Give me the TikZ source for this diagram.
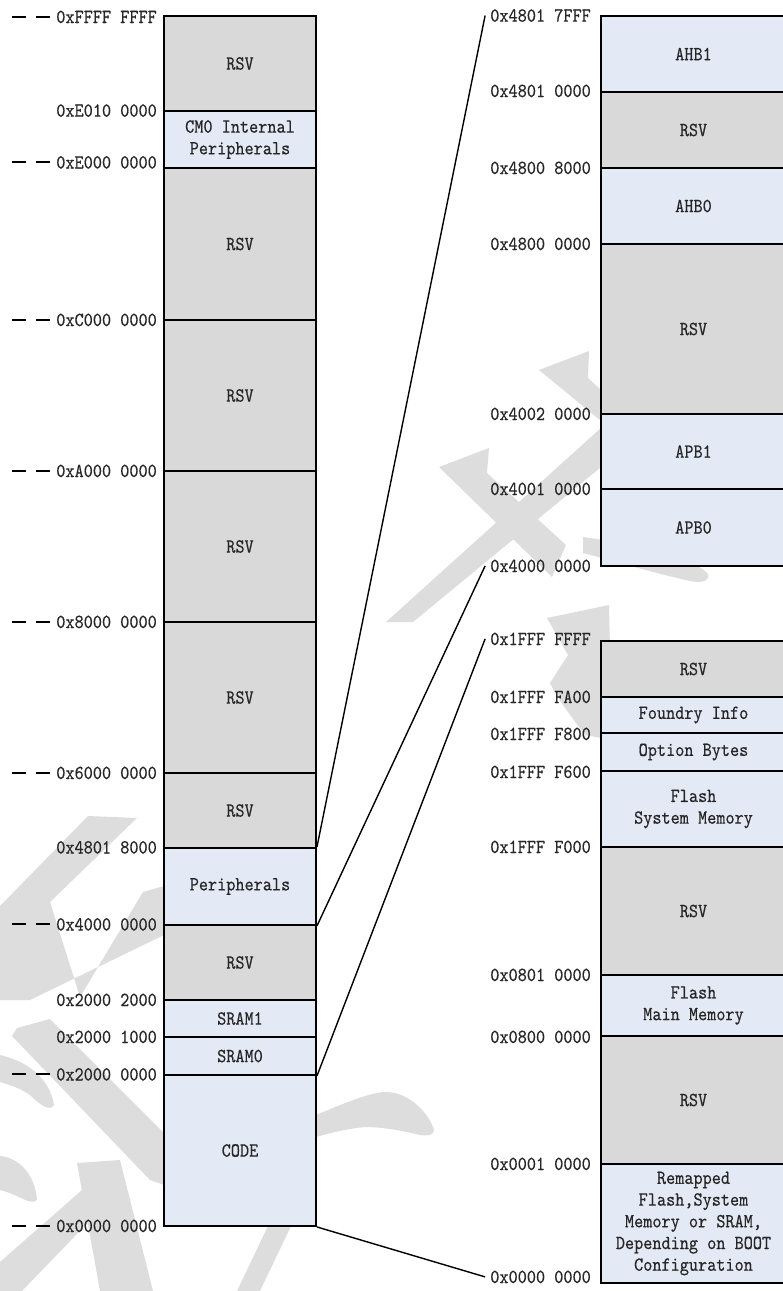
\documentclass[tikz,border=0pt]{standalone}
\usepackage{fontspec}
\newfontfamily\dfam[FakeStretch=0.87,FakeBold=0.35]{lmmono10-regular.otf}
\definecolor{rsvc}{RGB}{217,217,217}
\definecolor{bluc}{RGB}{228,234,245}
\definecolor{wmc}{RGB}{221,221,221}
\newcommand{\dfont}{\dfam\fontsize{20}{21.7}\selectfont}
\newcommand{\memblk}[7]{\node[#2, minimum width={#4-#3}, minimum height={#6-#5}] (#1) at ({(#3+#4)/2},{(#5+#6)/2}) {#7};}
\newcommand{\addr}[5]{\node[lab] (#1) at (#2,{#3+#4}) {#5};}
\begin{document}
\begin{tikzpicture}[x=1pt,y=-1pt,
  blk/.style={draw=black, line width=1.9pt, inner sep=0pt, align=center, font=\dfont, text=black!85},
  rsv/.style={blk, fill=rsvc},
  blu/.style={blk, fill=bluc},
  lab/.style={anchor=base east, inner sep=0pt, font=\dfont, text=black!85},
  dsh/.style={line width=1.9pt, dash pattern=on 14pt off 10pt},
  conn/.style={line width=1.4pt},
  wm/.style={fill=wmc}]
\useasboundingbox (0,0) rectangle (783,1291);
\fill[white] (0,0) rectangle (783,1291);
% watermark
\fill[wm] (88,816) -- (137,818) -- (50,902) -- (80,997) -- (143,892) -- (164,886) -- (164,935) -- (30,1000) -- (0,1000) -- (0,906) -- cycle;
\fill[wm] (17,1028) -- (50,1019) -- (164,1133) -- (164,1185) -- (150,1180) -- (12,1036) -- cycle;
\fill[wm] (316,1115) .. controls (340,1105) and (370,1092) .. (386,1092) .. controls (410,1092) and (430,1115) .. (434,1130) .. controls (434,1136) and (425,1136) .. (420,1135) .. controls (400,1130) and (380,1127) .. (366,1127) .. controls (350,1128) and (330,1133) .. (316,1137) -- cycle;
\fill[wm] (0,1055) .. controls (30,1062) and (50,1080) .. (54,1105) .. controls (50,1112) and (40,1105) .. (30,1095) .. controls (20,1088) and (10,1085) .. (0,1082) -- cycle;
\fill[wm] (0,1156) .. controls (20,1158) and (35,1175) .. (37,1200) .. controls (30,1206) and (20,1195) .. (0,1190) -- cycle;
\fill[wm] (77,1163) -- (120,1160) -- (153,1291) -- (100,1291) -- cycle;
\fill[wm] (82,1190) -- (100,1210) -- (22,1291) -- (0,1291) -- (0,1262) -- cycle;
\fill[wm] (268,1226) -- (291,1226) -- (260,1291) -- (237,1291) -- cycle;
\fill[wm] (612,418) -- (612,458) -- (413,622) -- (386,622) -- cycle;
\fill[wm] (539,370) -- (589,351) -- (588,378) -- (612,400) -- (612,430) -- cycle;
\fill[wm] (439,467) -- (489,448) -- (487,473) -- (566,545) -- (552,577) -- cycle;
\fill[wm] (583,537) .. controls (640,545) and (690,555) .. (708,574) .. controls (710,582) and (700,583) .. (690,581) .. controls (650,572) and (610,560) .. (583,553) -- cycle;
\fill[wm] (547,618) -- (609,605) -- (612,740) -- (585,735) .. controls (570,715) and (555,695) .. (550,683) -- (568,655) -- cycle;
% left column
\memblk{l1}{rsv}{164}{316}{16}{111}{RSV}
\memblk{l2}{blu}{164}{316}{111}{168}{CM0 Internal\\Peripherals}
\memblk{l3}{rsv}{164}{316}{168}{320}{RSV}
\memblk{l4}{rsv}{164}{316}{320}{471}{RSV}
\memblk{l5}{rsv}{164}{316}{471}{622}{RSV}
\memblk{l6}{rsv}{164}{316}{622}{773}{RSV}
\memblk{l7}{rsv}{164}{316}{773}{848}{RSV}
\memblk{l8}{blu}{164}{316}{848}{925}{Peripherals}
\memblk{l9}{rsv}{164}{316}{925}{1000}{RSV}
\memblk{l10}{blu}{164}{316}{1000}{1037}{SRAM1}
\memblk{l11}{blu}{164}{316}{1037}{1075}{SRAM0}
\memblk{l12}{blu}{164}{316}{1075}{1226}{CODE}
% right top column
\memblk{r1}{blu}{601}{786}{16}{92}{AHB1}
\memblk{r2}{rsv}{601}{786}{92}{168}{RSV}
\memblk{r3}{blu}{601}{786}{168}{244}{AHB0}
\memblk{r4}{rsv}{601}{786}{244}{414}{RSV}
\memblk{r5}{blu}{601}{786}{414}{489}{APB1}
\memblk{r6}{blu}{601}{786}{489}{566}{APB0}
% right bottom column
\memblk{b1}{rsv}{601}{786}{641}{697}{RSV}
\memblk{b2}{blu}{601}{786}{697}{733}{Foundry Info}
\memblk{b3}{blu}{601}{786}{733}{771}{Option Bytes}
\memblk{b4}{blu}{601}{786}{771}{847}{Flash\\System Memory}
\memblk{b5}{rsv}{601}{786}{847}{975}{RSV}
\memblk{b6}{blu}{601}{786}{975}{1036}{Flash\\Main Memory}
\memblk{b7}{rsv}{601}{786}{1036}{1164}{RSV}
\memblk{b8}{blu}{601}{786}{1164}{1283}{Remapped\\Flash,System\\Memory or SRAM,\\Depending on BOOT\\Configuration}
% left labels
\addr{la1}{157}{16}{7}{0xFFFF FFFF}
\addr{la2}{157}{111}{5.7}{0xE010 0000}
\addr{la3}{157}{168}{0.5}{0xE000 0000}
\addr{la4}{157}{320}{6}{0xC000 0000}
\addr{la5}{157}{471}{6}{0xA000 0000}
\addr{la6}{157}{622}{6}{0x8000 0000}
\addr{la7}{157}{773}{6}{0x6000 0000}
\addr{la8}{157}{848}{5.5}{0x4801 8000}
\addr{la9}{157}{925}{5.5}{0x4000 0000}
\addr{la10}{157}{1000}{6}{0x2000 2000}
\addr{la11}{157}{1037}{6}{0x2000 1000}
\addr{la12}{157}{1075}{5.5}{0x2000 0000}
\addr{la13}{157}{1226}{6}{0x0000 0000}
% right labels
\addr{ra1}{591}{16}{5.7}{0x4801 7FFF}
\addr{ra2}{591}{92}{5}{0x4801 0000}
\addr{ra3}{591}{168}{6}{0x4800 8000}
\addr{ra4}{591}{244}{6}{0x4800 0000}
\addr{ra5}{591}{414}{6}{0x4002 0000}
\addr{ra6}{591}{489}{6}{0x4001 0000}
\addr{ra7}{591}{566}{6}{0x4000 0000}
\addr{rb1}{591}{641}{4}{0x1FFF FFFF}
\addr{rb2}{591}{697}{6}{0x1FFF FA00}
\addr{rb3}{591}{733}{7}{0x1FFF F800}
\addr{rb4}{591}{771}{7}{0x1FFF F600}
\addr{rb5}{591}{847}{6}{0x1FFF F000}
\addr{rb6}{591}{975}{6}{0x0801 0000}
\addr{rb7}{591}{1036}{7}{0x0800 0000}
\addr{rb8}{591}{1164}{6}{0x0001 0000}
\addr{rb9}{591}{1283}{0}{0x0000 0000}
% dashes
\foreach \n in {la1,la3,la4,la5,la6,la7,la9,la12,la13}
  \draw[dsh] ([xshift=-44pt]\n.west) -- ([xshift=-4pt]\n.west);
% connectors
\draw[conn] (l8.north east) -- ([xshift=-5pt]ra1.west);
\draw[conn] (l8.south east) -- ([xshift=-5pt]ra7.west);
\draw[conn] (l11.south east) -- ([xshift=-5pt]rb1.west);
\draw[conn] (l12.south east) -- ([xshift=-5pt]rb9.west);
\end{tikzpicture}
\end{document}
